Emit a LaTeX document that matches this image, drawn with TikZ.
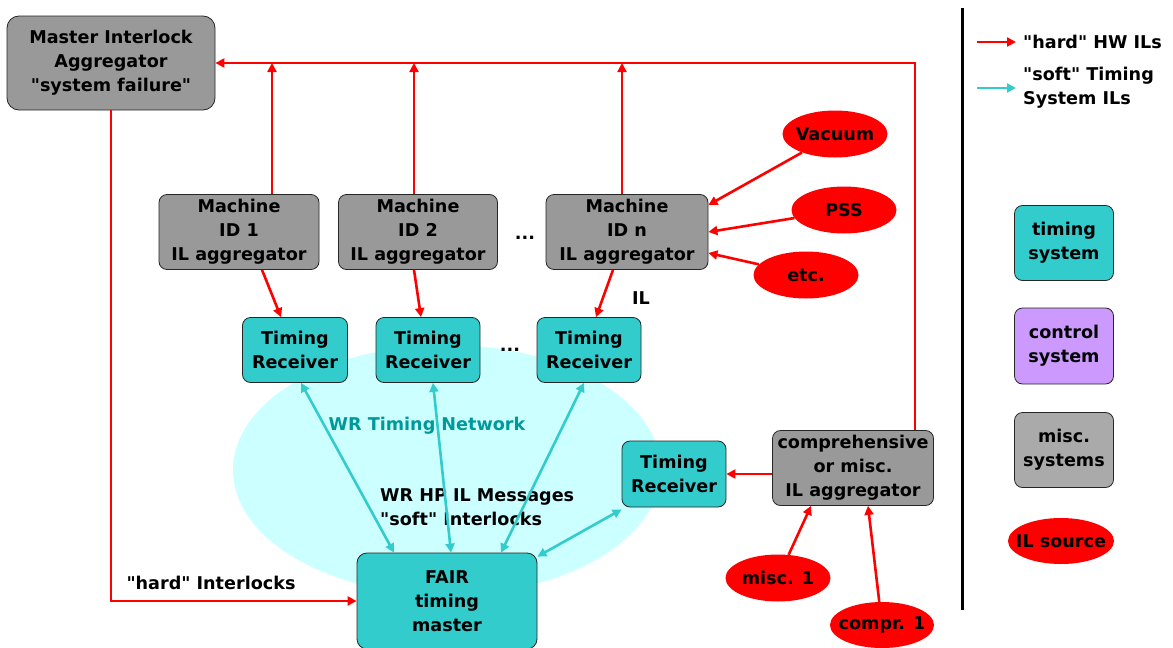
\documentclass[tikz,border=0pt]{standalone}
\usepackage{fontspec}
\setmainfont{DejaVu Sans}[Ligatures=TeXOff]
\usetikzlibrary{shapes.geometric,arrows.meta}
\definecolor{tcyan}{HTML}{33CCCC}
\definecolor{mgray}{HTML}{999999}
\definecolor{lgray}{HTML}{AAAAAA}
\definecolor{lcyan}{HTML}{CCFFFF}
\definecolor{cpurple}{HTML}{CC99FF}
\definecolor{teal2}{HTML}{009999}
\definecolor{ilred}{HTML}{FF0000}
\tikzset{
  txt/.style={font=\bfseries\fontsize{17.6}{24}\selectfont, align=center, inner sep=0pt},
  box/.style={txt, draw=black!85, line width=0.8pt, rounded corners=8pt},
  graybox/.style={box, fill=mgray},
  cyanbox/.style={box, fill=tcyan},
  ilsrc/.style={txt, ellipse, fill=ilred, inner xsep=-18pt, inner ysep=-2pt, minimum width=105pt, minimum height=47pt},
  harrow/.style={draw=ilred, line width=2.6pt, -{Triangle[length=9pt,width=9pt]}},
  sarrow/.style={draw=tcyan, line width=2.6pt, {Triangle[length=9pt,width=9pt]}-{Triangle[length=9pt,width=9pt]}},
  sarrowone/.style={draw=tcyan, line width=2.6pt, -{Triangle[length=9pt,width=9pt]}},
}
\begin{document}
\begin{tikzpicture}[x=1pt,y=-1pt]
\useasboundingbox (0,0) rectangle (1173,648);
% network ellipse
\fill[lcyan] (447,470) ellipse [x radius=214pt, y radius=125pt];
\node[txt, text=teal2] (wrnet) at (427,426) {WR Timing Network};
\node[txt, align=left, anchor=west] (wrmsg) at (380,507) {WR HP IL Messages\\"soft" Interlocks};

% boxes
\node[graybox, rounded corners=12pt, minimum width=208pt, minimum height=94pt] (master) at (111,63) {Master Interlock\\Aggregator\\"system failure"};
\node[graybox, minimum width=160pt, minimum height=75pt] (m1) at (239,232) {Machine\\ID 1\\IL aggregator};
\node[graybox, minimum width=159pt, minimum height=75pt] (m2) at (418,232) {Machine\\ID 2\\IL aggregator};
\node[graybox, minimum width=162pt, minimum height=75pt] (mn) at (627,232) {Machine\\ID n\\IL aggregator};
\node[txt] (dots1) at (525,238) {...};

\node[cyanbox, minimum width=105pt, minimum height=65pt] (tr1) at (295,350) {Timing\\Receiver};
\node[cyanbox, minimum width=104pt, minimum height=65pt] (tr2) at (428,350) {Timing\\Receiver};
\node[cyanbox, minimum width=104pt, minimum height=65pt] (tr3) at (589,350) {Timing\\Receiver};
\node[txt] (dots2) at (510,350) {...};
\node[cyanbox, minimum width=104pt, minimum height=66pt] (tr4) at (674,474) {Timing\\Receiver};

\node[cyanbox, rounded corners=10pt, minimum width=180pt, minimum height=96pt] (fair) at (447,601) {FAIR\\timing\\master};
\node[graybox, minimum width=161pt, minimum height=75pt] (comp) at (853,468) {comprehensive\\or misc.\\IL aggregator};

\node[ilsrc] (vac) at (835,134) {Vacuum};
\node[ilsrc] (pss) at (844,210) {PSS};
\node[ilsrc] (etc) at (806,275) {etc.};
\node[ilsrc] (misc1) at (778,578) {misc. 1};
\node[ilsrc, minimum width=104pt, minimum height=46pt] (compr1) at (882,625) {compr. 1};

\node[txt] (illab) at (641,298) {IL};
\node[txt] (hardlab) at (211,583) {"hard" Interlocks};

% hard interlock lines to master
\draw[harrow] ([xshift=-19pt]comp.north east) |- (master.east);
\draw[harrow] ([xshift=33pt]m1.north) -- ([xshift=33pt]m1.north |- master.east);
\draw[harrow] ([xshift=-4pt]m2.north) -- ([xshift=-4pt]m2.north |- master.east);
\draw[harrow] ([xshift=-5pt]mn.north) -- ([xshift=-5pt]mn.north |- master.east);
\draw[harrow] (master.south) |- (fair.west);

% machine to receivers
\draw[harrow] ([xshift=23pt]m1.south) -- ([xshift=-14pt]tr1.north);
\draw[harrow] ([xshift=-4pt]m2.south) -- ([xshift=-7pt]tr2.north);
\draw[harrow] ([xshift=-14pt]mn.south) -- ([xshift=7pt]tr3.north);

% sources
\draw[harrow] (vac) -- ([yshift=27pt]mn.east);
\draw[harrow] (pss) -- (mn.east);
\draw[harrow] (etc) -- ([yshift=-21pt]mn.east);
\draw[harrow] (misc1) -- ([xshift=-42pt]comp.south);
\draw[harrow] (compr1) -- ([xshift=15pt]comp.south);
\draw[harrow] (comp.west |- tr4.east) -- (tr4.east);

% soft links
\draw[sarrow] ([xshift=6pt]tr1.south) -- ([xshift=-53pt]fair.north);
\draw[sarrow] ([xshift=5pt]tr2.south) -- ([xshift=4pt]fair.north);
\draw[sarrow] ([xshift=-5pt]tr3.south) -- ([xshift=54pt]fair.north);
\draw[sarrow] ([yshift=-2pt]tr4.south west) -- ([yshift=-4pt]fair.north east);

% legend
\coordinate (sepTop) at (962,8);
\coordinate (sepBot) at (962,610);
\draw[line width=3pt] (sepTop) -- (sepBot);
\coordinate (lh1) at (977,42);
\coordinate (lh2) at (1016,42);
\draw[harrow] (lh1) -- (lh2);
\node[txt, anchor=west] (lhtxt) at (1023,42) {"hard" HW ILs};
\coordinate (ls1) at (977,88);
\coordinate (ls2) at (1016,88);
\draw[sarrowone] (ls1) -- (ls2);
\node[txt, anchor=west, align=left] (lstxt) at (1023,88) {"soft" Timing\\System ILs};
\node[cyanbox, minimum width=99pt, minimum height=75pt] (lg1) at (1064,243) {timing\\system};
\node[box, fill=cpurple, minimum width=99pt, minimum height=76pt] (lg2) at (1064,346) {control\\system};
\node[box, fill=lgray, minimum width=99pt, minimum height=75pt] (lg3) at (1064,450) {misc.\\systems};
\node[ilsrc, minimum width=106pt, minimum height=46pt] (lg4) at (1061,541) {IL source};
\end{tikzpicture}
\end{document}
